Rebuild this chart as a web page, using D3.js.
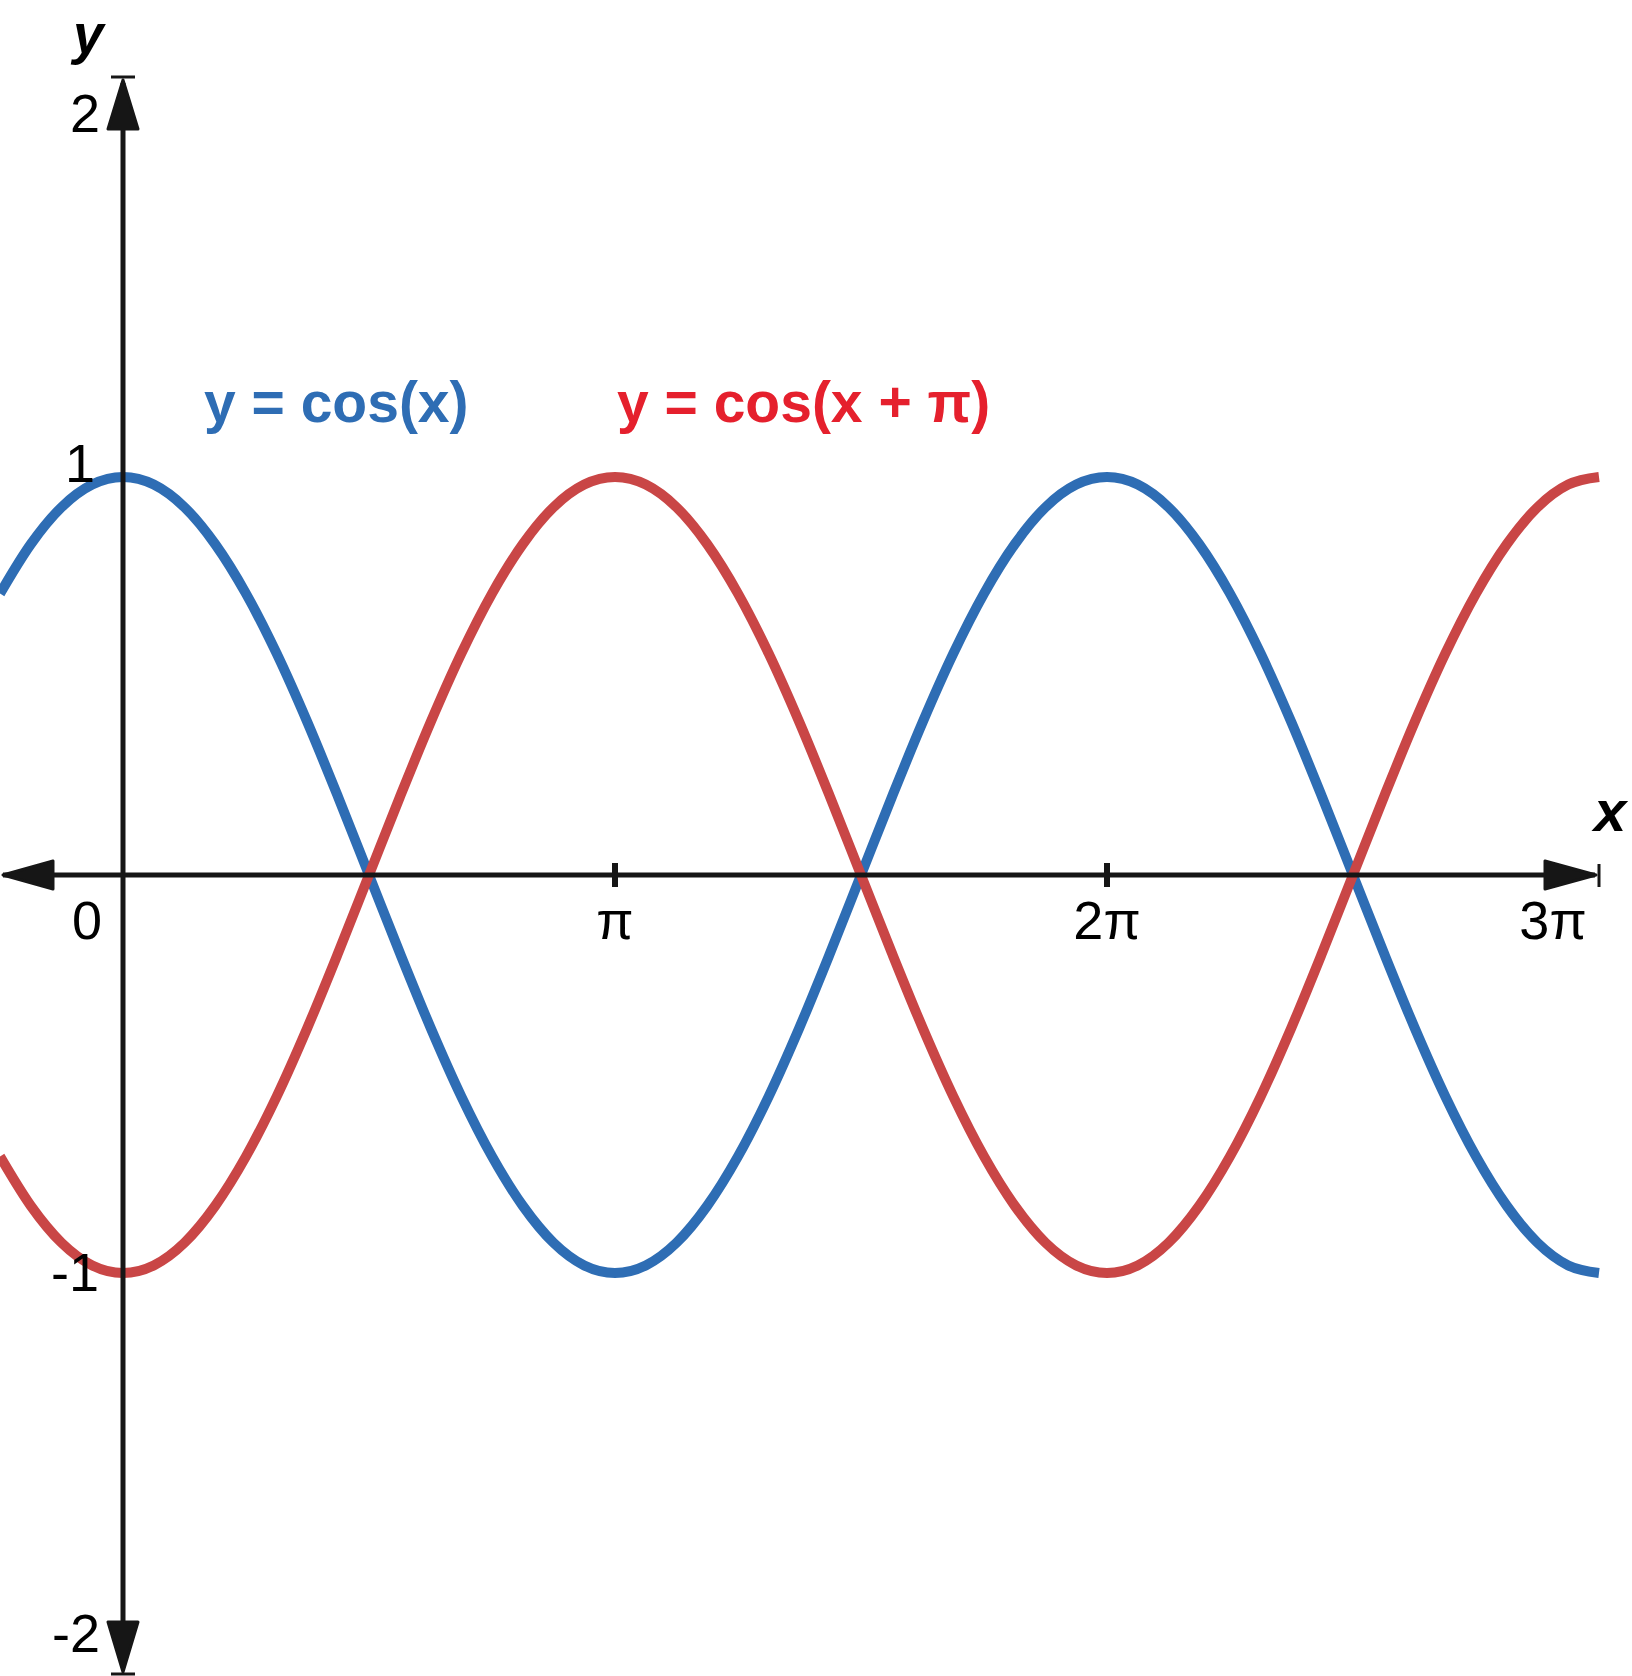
<!DOCTYPE html>
<html>
<head>
<meta charset="utf-8">
<script src="https://cdn.jsdelivr.net/npm/d3@7"></script>
<style>
  html, body { margin: 0; padding: 0; background: #fff; }
  svg { display: block; font-family: "Liberation Sans", Arial, sans-serif; }
</style>
</head>
<body>
<div id="chart"></div>
<script>
// Sample positions in multiples of pi: every pi/16 from -pi/4 to 3pi
const xPi = d3.range(-4, 49).map(k => k / 16);

// y = cos(x), blue curve, read at each sample position
const cosX = [
  0.707, 0.831, 0.924, 0.981,
  1, 0.981, 0.924, 0.831, 0.707, 0.556, 0.383, 0.195,
  0, -0.195, -0.383, -0.556, -0.707, -0.831, -0.924, -0.981,
  -1, -0.981, -0.924, -0.831, -0.707, -0.556, -0.383, -0.195,
  0, 0.195, 0.383, 0.556, 0.707, 0.831, 0.924, 0.981,
  1, 0.981, 0.924, 0.831, 0.707, 0.556, 0.383, 0.195,
  0, -0.195, -0.383, -0.556, -0.707, -0.831, -0.924, -0.981,
  -1
];

// y = cos(x + pi), red curve
const cosXPlusPi = [
  -0.707, -0.831, -0.924, -0.981,
  -1, -0.981, -0.924, -0.831, -0.707, -0.556, -0.383, -0.195,
  0, 0.195, 0.383, 0.556, 0.707, 0.831, 0.924, 0.981,
  1, 0.981, 0.924, 0.831, 0.707, 0.556, 0.383, 0.195,
  0, -0.195, -0.383, -0.556, -0.707, -0.831, -0.924, -0.981,
  -1, -0.981, -0.924, -0.831, -0.707, -0.556, -0.383, -0.195,
  0, 0.195, 0.383, 0.556, 0.707, 0.831, 0.924, 0.981,
  1
];

const xTicks = [0, 1, 2, 3];
const xTickLabels = ['0', 'π', '2π', '3π'];
const yTicks = [2, 1, -1, -2];
const yTickLabels = ['2', '1', '-1', '-2'];

const seriesNames = ['y = cos(x)', 'y = cos(x + π)'];

// Layout (pixels)
const W = 1632, H = 1676;
const AXIS = '#161616';
const BLUE = '#2e6db4';
const RED_LINE = '#c94646';
const RED_TEXT = '#e5202d';

// hand-placed label nudges, as in the source figure
const xLabelDx = { 0: -36, 1: 0, 2: 0, 3: -46 };
const yLabelDx = { 2: -23, 1: -28, '-1': -24, '-2': -23 };
const yLabelDy = { 2: 53, 1: 5, '-1': 18, '-2': -19 };

const svg = d3.select('#chart')
  .append('svg')
  .attr('width', W)
  .attr('height', H);

svg.append('rect')
  .attr('width', W)
  .attr('height', H)
  .attr('fill', '#fff');

const x = d3.scaleLinear()
  .domain([-0.25 * Math.PI, 3 * Math.PI])
  .range([0, 1599]);

const y = d3.scaleLinear()
  .domain([-2, 2])
  .range([1671, 79]);

// uniform Catmull-Rom through the read samples
const line = d3.line()
  .x(d => x(d[0] * Math.PI))
  .y(d => y(d[1]))
  .curve(d3.curveCardinal.tension(0));

// Curves
const curves = [
  { values: cosX, color: BLUE },
  { values: cosXPlusPi, color: RED_LINE }
];

svg.append('g')
  .attr('class', 'curves')
  .selectAll('path')
  .data(curves)
  .enter()
  .append('path')
  .attr('d', c => line(xPi.map((v, i) => [v, c.values[i]])))
  .attr('fill', 'none')
  .attr('stroke', c => c.color)
  .attr('stroke-width', 10)
  .attr('stroke-linecap', 'butt')
  .attr('stroke-linejoin', 'round');

// Axes
const axes = svg.append('g').attr('class', 'axes');
const x0 = x(0), y0 = y(0);
const xEnd = x(3 * Math.PI);
const yTop = y(2), yBot = y(-2);

axes.append('line')
  .attr('x1', 3).attr('x2', xEnd - 4)
  .attr('y1', y0).attr('y2', y0)
  .attr('stroke', AXIS).attr('stroke-width', 5);

axes.append('line')
  .attr('x1', x0).attr('x2', x0)
  .attr('y1', yTop + 4).attr('y2', yBot - 4)
  .attr('stroke', AXIS).attr('stroke-width', 5);

// Arrow heads
const arrows = [
  `M${xEnd - 3},${y0} L${xEnd - 54},${y0 - 14} L${xEnd - 54},${y0 + 14} Z`,
  `M3,${y0} L53,${y0 - 14} L53,${y0 + 14} Z`,
  `M${x0},${yTop + 1} L${x0 - 15},${yTop + 50} L${x0 + 15},${yTop + 50} Z`,
  `M${x0},${yBot + 1} L${x0 - 15},${yBot - 49} L${x0 + 15},${yBot - 49} Z`
];
axes.selectAll('.arrow')
  .data(arrows)
  .enter()
  .append('path')
  .attr('class', 'arrow')
  .attr('d', d => d)
  .attr('fill', AXIS)
  .attr('stroke', AXIS)
  .attr('stroke-width', 3)
  .attr('stroke-linejoin', 'round');

// End bars
axes.append('line')
  .attr('x1', xEnd).attr('x2', xEnd)
  .attr('y1', y0 - 11).attr('y2', y0 + 12)
  .attr('stroke', AXIS).attr('stroke-width', 3);
[yTop - 2, yBot + 3].forEach(yy => {
  axes.append('line')
    .attr('x1', x0 - 12).attr('x2', x0 + 12)
    .attr('y1', yy).attr('y2', yy)
    .attr('stroke', AXIS).attr('stroke-width', 3);
});

// Tick marks at pi and 2pi
axes.selectAll('.xtick')
  .data(xTicks.filter(t => t > 0 && t < 3))
  .enter()
  .append('line')
  .attr('class', 'xtick')
  .attr('x1', t => x(t * Math.PI)).attr('x2', t => x(t * Math.PI))
  .attr('y1', y0 - 12).attr('y2', y0 + 12)
  .attr('stroke', AXIS).attr('stroke-width', 6);

// Tick labels
svg.append('g')
  .selectAll('text')
  .data(xTicks)
  .enter()
  .append('text')
  .attr('x', t => x(t * Math.PI) + xLabelDx[t])
  .attr('y', y0 + 64)
  .attr('text-anchor', 'middle')
  .attr('font-size', 54)
  .attr('fill', '#000')
  .text((t, i) => xTickLabels[i]);

svg.append('g')
  .selectAll('text')
  .data(yTicks)
  .enter()
  .append('text')
  .attr('x', t => x0 + yLabelDx[t])
  .attr('y', t => y(t) + yLabelDy[t])
  .attr('text-anchor', 'end')
  .attr('font-size', 54)
  .attr('fill', '#000')
  .text((t, i) => yTickLabels[i]);

// Axis names
svg.append('text')
  .attr('x', 1594).attr('y', 831)
  .attr('font-size', 58)
  .attr('font-weight', 'bold')
  .attr('font-style', 'italic')
  .text('x');

svg.append('text')
  .attr('x', 73).attr('y', 53)
  .attr('font-size', 55)
  .attr('font-weight', 'bold')
  .attr('font-style', 'italic')
  .text('y');

// Curve labels
const legend = [
  { name: seriesNames[0], color: BLUE, x: 204 },
  { name: seriesNames[1], color: RED_TEXT, x: 617 }
];
svg.append('g')
  .selectAll('text')
  .data(legend)
  .enter()
  .append('text')
  .attr('x', d => d.x)
  .attr('y', 422)
  .attr('font-size', 57)
  .attr('font-weight', 'bold')
  .attr('fill', d => d.color)
  .text(d => d.name);
</script>
</body>
</html>
